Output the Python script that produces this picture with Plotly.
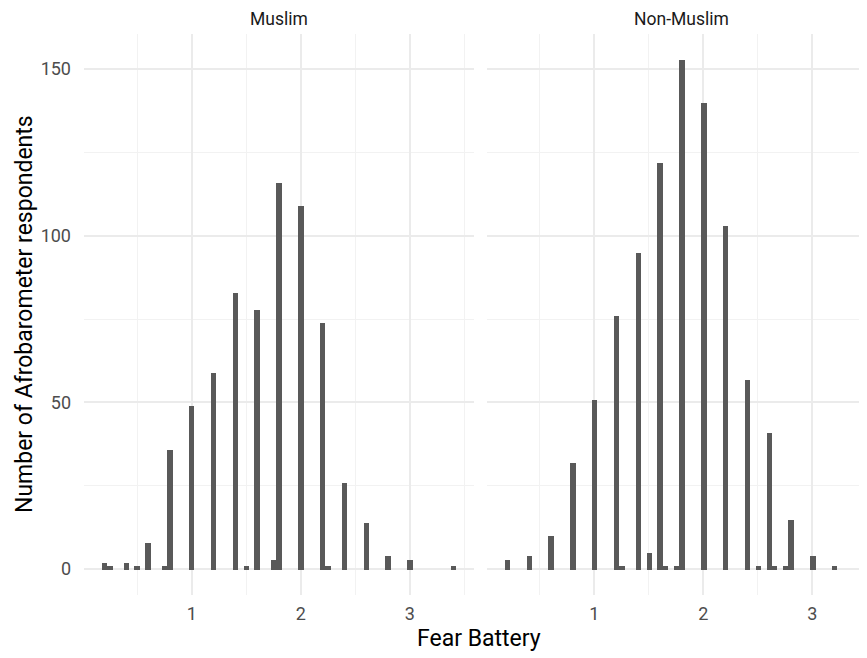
import plotly.graph_objects as go

# ---- data ----
muslim_x = [0.2, 0.25, 0.4, 0.5, 0.6, 0.75, 0.8, 1.0, 1.2, 1.4, 1.5, 1.6, 1.75, 1.8,
            2.0, 2.2, 2.25, 2.4, 2.6, 2.8, 3.0, 3.4]
muslim_n = [2, 1, 2, 1, 8, 1, 36, 49, 59, 83, 1, 78, 3, 116,
            109, 74, 1, 26, 14, 4, 3, 1]

nonmuslim_x = [0.2, 0.4, 0.6, 0.8, 1.0, 1.2, 1.25, 1.4, 1.5, 1.6, 1.65, 1.75, 1.8,
               2.0, 2.2, 2.4, 2.5, 2.6, 2.65, 2.75, 2.8, 3.0, 3.2]
nonmuslim_n = [3, 4, 10, 32, 51, 76, 1, 95, 5, 122, 1, 1, 153,
               140, 103, 57, 1, 41, 1, 1, 15, 4, 1]

panels = ["Muslim", "Non-Muslim"]
binwidth = 0.05
x_ticks = [1, 2, 3]
y_ticks = [0, 50, 100, 150]

# page body has an 8px margin; the figure is sized/positioned to compensate
OFF = 8
W, H = 867 - OFF, 658 - OFF
BAR = "#595959"
GRID = "#EBEBEB"
MINOR = "#F2F2F2"
FONT = "Roboto"


def px(xp):
    return (xp - OFF) / W


def py(yp):
    return 1 - (yp - OFF) / H


fig = go.Figure()
fig.add_trace(go.Bar(x=muslim_x, y=muslim_n, width=binwidth, marker=dict(color=BAR, line=dict(width=0)),
                     xaxis="x", yaxis="y", showlegend=False))
fig.add_trace(go.Bar(x=nonmuslim_x, y=nonmuslim_n, width=binwidth, marker=dict(color=BAR, line=dict(width=0)),
                     xaxis="x2", yaxis="y2", showlegend=False))

ydom = [py(594.5), py(33.5)]
x1dom = [px(84), px(474)]
x2dom = [px(486.5), 1.0]
xr1 = [0.0125, 3.5875]
ppu = (474 - 84) / (xr1[1] - xr1[0])
xr2 = [0.0125, 0.0125 + (867 - 486.5) / ppu]
yr = [-7.65, 160.65]

xcommon = dict(tickmode="array", tickvals=x_ticks, ticktext=[str(t) for t in x_ticks],
               showgrid=True, gridcolor=GRID, gridwidth=1.6, zeroline=False, showline=False,
               ticks="", tickfont=dict(family=FONT, size=18, color="#4D4D4D"),
               ticklabelstandoff=6,
               minor=dict(tickmode="array", tickvals=[0.5, 1.5, 2.5, 3.5], showgrid=True,
                          gridcolor=MINOR, gridwidth=1))
ycommon = dict(range=yr, tickmode="array", tickvals=y_ticks, ticktext=[str(t) for t in y_ticks],
               showgrid=True, gridcolor=GRID, gridwidth=1.6, zeroline=False, showline=False,
               ticks="", tickfont=dict(family=FONT, size=18, color="#4D4D4D"),
               ticklabelstandoff=12,
               minor=dict(tickmode="array", tickvals=[25, 75, 125], showgrid=True,
                          gridcolor=MINOR, gridwidth=1))

fig.update_layout(
    width=W, height=H,
    margin=dict(l=0, r=0, t=0, b=0),
    paper_bgcolor="white", plot_bgcolor="white",
    bargap=0,
    font=dict(family=FONT),
    xaxis=dict(domain=x1dom, range=xr1, anchor="y", **xcommon),
    xaxis2=dict(domain=x2dom, range=xr2, anchor="y2", **xcommon),
    yaxis=dict(domain=ydom, anchor="x", **ycommon),
    yaxis2=dict(domain=ydom, anchor="x2", matches="y", showticklabels=False,
                **{k: v for k, v in ycommon.items() if k not in ("range",)}),
)

annotations = [
    dict(text=panels[0], x=px((84 + 474) / 2), y=py(19.5), xref="paper", yref="paper", borderpad=0,
         showarrow=False, font=dict(family=FONT, size=17.5, color="#1A1A1A"), xanchor="center", yanchor="middle"),
    dict(text=panels[1], x=px((486.5 + 876.5) / 2), y=py(19.5), xref="paper", yref="paper", borderpad=0,
         showarrow=False, font=dict(family=FONT, size=17.5, color="#1A1A1A"), xanchor="center", yanchor="middle"),
    dict(text="Fear Battery", x=px(479), y=py(638), xref="paper", yref="paper",
         showarrow=False, font=dict(family=FONT, size=23, color="black"), xanchor="center", yanchor="middle"),
    dict(text="Number of Afrobarometer respondents", x=px(24), y=py(314), xref="paper", yref="paper",
         textangle=-90, showarrow=False, font=dict(family=FONT, size=23, color="black"),
         xanchor="center", yanchor="middle"),
]
fig.update_layout(annotations=annotations)

fig.write_html("out.html")
